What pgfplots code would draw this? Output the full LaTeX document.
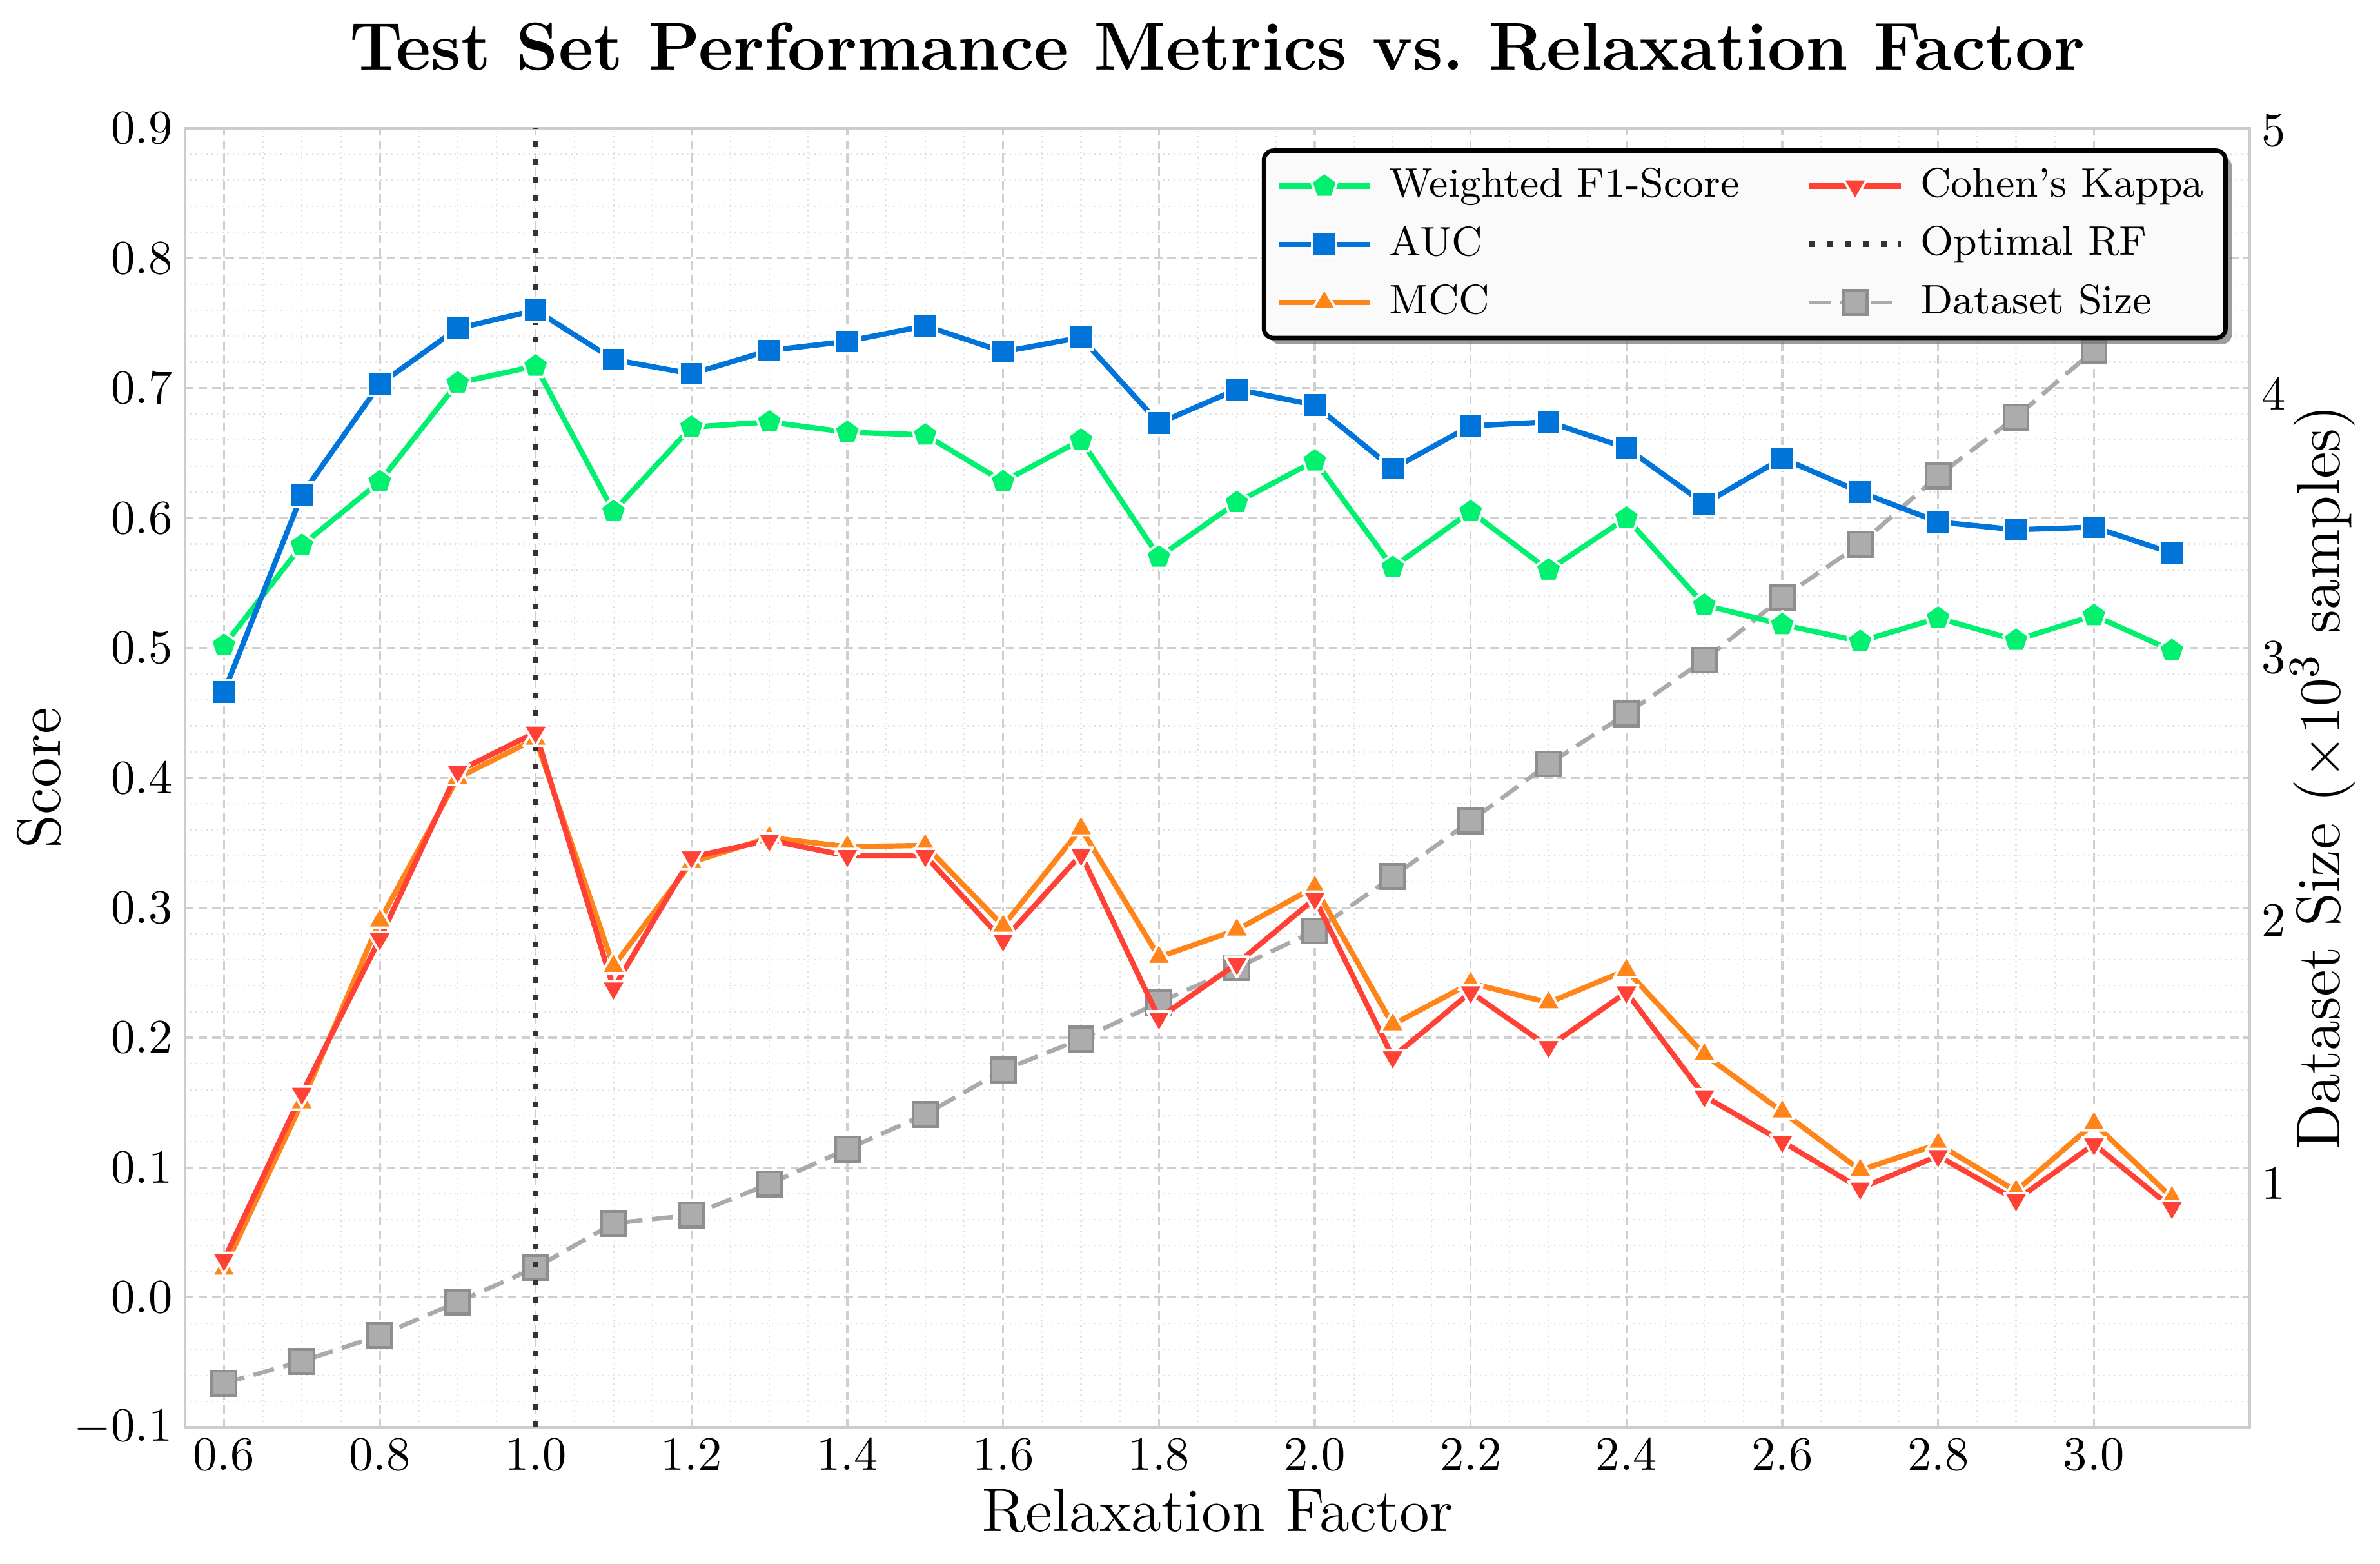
\documentclass[border=0pt]{standalone}
\usepackage{pgfplots}
\pgfplotsset{compat=1.18}
\usepackage{pgfplotstable}
\usetikzlibrary{plotmarks,shadows}

\makeatletter
\tikzset{no preactions/.code={\let\tikz@preactions\pgfutil@empty\let\tikz@postactions\pgfutil@empty}}
\makeatother

\definecolor{cF}{HTML}{01F070}
\definecolor{cA}{HTML}{0074D9}
\definecolor{cM}{HTML}{FF851B}
\definecolor{cK}{HTML}{FF4136}
\definecolor{cDl}{HTML}{AAAAAA}
\definecolor{cDf}{HTML}{ACACAC}
\definecolor{cDe}{HTML}{8E8E8E}
\definecolor{cOpt}{HTML}{333333}
\definecolor{cFrame}{HTML}{CCCCCC}
\definecolor{cGrid}{HTML}{CFCFCF}
\definecolor{cMinor}{HTML}{E2E2E2}
\definecolor{cLeg}{HTML}{FAFAFA}

\pgfplotstableread{
x f1 auc mcc kappa
0.6 0.502 0.466 0.022 0.029
0.7 0.579 0.618 0.150 0.157
0.8 0.628 0.703 0.290 0.276
0.9 0.704 0.746 0.400 0.405
1.0 0.717 0.760 0.430 0.435
1.1 0.605 0.722 0.255 0.238
1.2 0.670 0.711 0.335 0.339
1.3 0.674 0.729 0.354 0.352
1.4 0.666 0.736 0.347 0.340
1.5 0.664 0.748 0.348 0.340
1.6 0.628 0.728 0.286 0.275
1.7 0.660 0.739 0.361 0.341
1.8 0.570 0.673 0.262 0.215
1.9 0.612 0.699 0.283 0.257
2.0 0.644 0.687 0.316 0.307
2.1 0.562 0.638 0.210 0.185
2.2 0.605 0.671 0.242 0.235
2.3 0.560 0.674 0.227 0.193
2.4 0.600 0.654 0.252 0.235
2.5 0.533 0.611 0.187 0.155
2.6 0.518 0.646 0.143 0.120
2.7 0.505 0.620 0.098 0.084
2.8 0.523 0.597 0.118 0.109
2.9 0.506 0.591 0.082 0.075
3.0 0.525 0.593 0.134 0.118
3.1 0.498 0.573 0.077 0.069
}\metrics

\pgfplotstableread{
x size
0.6 0.243
0.7 0.326
0.8 0.424
0.9 0.551
1.0 0.682
1.1 0.850
1.2 0.882
1.3 1.000
1.4 1.132
1.5 1.264
1.6 1.432
1.7 1.550
1.8 1.689
1.9 1.821
2.0 1.961
2.1 2.167
2.2 2.379
2.3 2.595
2.4 2.786
2.5 2.990
2.6 3.227
2.7 3.430
2.8 3.690
2.9 3.913
3.0 4.167
3.1 4.430
}\dataset

\pgfplotsset{
  base/.style={
    scale only axis, width=429.7pt, height=270.3pt,
    at={(0,0)}, anchor=south west,
    xmin=0.55, xmax=3.2,
    major tick length=0pt, minor tick length=0pt,
    tick style={draw=none},
  },
  f1style/.style={color=cF, line width=1.1pt, line join=round, mark=pentagon*, mark size=2.8pt,
    mark options={solid, fill=cF, draw=white, line width=0.5pt, sharp corners}},
  aucstyle/.style={color=cA, line width=1.1pt, line join=round, mark=square*, mark size=2.5pt,
    mark options={solid, fill=cA, draw=white, line width=0.5pt, sharp corners}},
  mccstyle/.style={color=cM, line width=1.1pt, line join=round, mark=triangle*, mark size=2.9pt,
    mark options={solid, fill=cM, draw=white, line width=0.5pt, sharp corners}},
  kapstyle/.style={color=cK, line width=1.1pt, line join=round, mark=triangle*, mark size=2.9pt,
    mark options={solid, fill=cK, draw=white, line width=0.5pt, rotate=180, sharp corners}},
  optstyle/.style={color=cOpt, line width=1.2pt, dash pattern=on 1.2pt off 2.5pt},
  dsstyle/.style={color=cDl, line width=0.9pt, dash pattern=on 4.4pt off 2pt, mark=square*, mark size=2.5pt,
    mark options={solid, fill=cDf, draw=cDe, line width=0.6pt, sharp corners}},
}

\begin{document}
\begin{tikzpicture}
\path[use as bounding box] (-38.5pt,-28.3pt) rectangle (456.8pt,297pt);

% grid, frame, left ticks, labels, title
\begin{axis}[base,
  ymin=-0.1, ymax=0.9,
  ytick={-0.1,0,0.1,0.2,0.3,0.4,0.5,0.6,0.7,0.8,0.9},
  xtick={0.6,0.8,1.0,1.2,1.4,1.6,1.8,2.0,2.2,2.4,2.6,2.8,3.0},
  minor x tick num=3, minor y tick num=4,
  grid=both,
  major grid style={draw=cGrid, line width=0.45pt, dash pattern=on 1.8pt off 1pt},
  minor grid style={draw=cMinor, line width=0.3pt, dash pattern=on 0.3pt off 0.8pt},
  axis line style={draw=cFrame, line width=0.6pt},
  xticklabel style={/pgf/number format/.cd, fixed, fixed zerofill, precision=1, /tikz/.cd, inner sep=2.3pt},
  yticklabel style={/pgf/number format/.cd, fixed, fixed zerofill, precision=1, /tikz/.cd, inner sep=2.4pt},
  title={Test Set Performance Metrics vs.\ Relaxation Factor},
  every axis title/.style={at={(0.5,1.0451)}, anchor=base, font=\fontsize{14.1}{17}\selectfont\bfseries},
  xlabel={Relaxation Factor},
  every axis x label/.style={at={(0.5,-0.0803)}, anchor=base, font=\fontsize{12.8}{15}\selectfont},
  ylabel={Score},
  every axis y label/.style={at={(-0.0605,0.5)}, rotate=90, anchor=base, font=\fontsize{12.8}{15}\selectfont},
]
\addplot[draw=none, forget plot] coordinates {(1.0,0.0)};
\end{axis}

% dataset size on right axis
\begin{axis}[base,
  ymin=0.075, ymax=5.01,
  ytick={1,2,3,4,5},
  xtick=\empty,
  ytick pos=right, yticklabel pos=right,
  axis line style={draw=none},
  yticklabel style={inner sep=2.3pt},
  ylabel={Dataset Size ($\times 10^3$ samples)},
  every axis y label/.style={at={(1.0434,0.5)}, rotate=90, anchor=base, font=\fontsize{12.8}{15}\selectfont},
]
\addplot[dsstyle, forget plot] table[x=x, y=size] {\dataset};
\end{axis}

% metrics on left axis
\begin{axis}[base,
  ymin=-0.1, ymax=0.9,
  hide axis,
  legend columns=2,
  legend cell align=left,
  legend image code/.code={\draw[no preactions, sharp corners, mark repeat=2, mark phase=2, #1] plot coordinates {(0pt,0pt) (9.5pt,0pt) (19pt,0pt)};},
  legend style={at={(0.9893,0.9845)}, anchor=north east,
    draw=black, line width=0.9pt, rounded corners=2pt,
    fill=cLeg,
    drop shadow={shadow xshift=1.3pt, shadow yshift=-1.3pt, fill=black!55, opacity=0.7},
    font=\fontsize{8.6}{10}\selectfont,
    inner xsep=2.5pt, inner ysep=2pt,
    row sep=1.3pt,
    nodes={no preactions, inner ysep=1.6pt},
    /tikz/every odd column/.append style={column sep=1.5pt},
    /tikz/every even column/.append style={column sep=12pt},
  },
]
\addlegendimage{f1style}\addlegendentry{Weighted F1-Score}
\addlegendimage{kapstyle}\addlegendentry{Cohen's Kappa}
\addlegendimage{aucstyle}\addlegendentry{AUC}
\addlegendimage{optstyle}\addlegendentry{Optimal RF}
\addlegendimage{mccstyle}\addlegendentry{MCC}
\addlegendimage{dsstyle}\addlegendentry{Dataset Size}

\addplot[f1style, forget plot] table[x=x, y=f1] {\metrics};
\addplot[aucstyle, forget plot] table[x=x, y=auc] {\metrics};
\addplot[mccstyle, forget plot] table[x=x, y=mcc] {\metrics};
\addplot[kapstyle, forget plot] table[x=x, y=kappa] {\metrics};
\addplot[optstyle, forget plot] coordinates {(1.0,-0.1) (1.0,0.9)};
\end{axis}
\end{tikzpicture}
\end{document}
